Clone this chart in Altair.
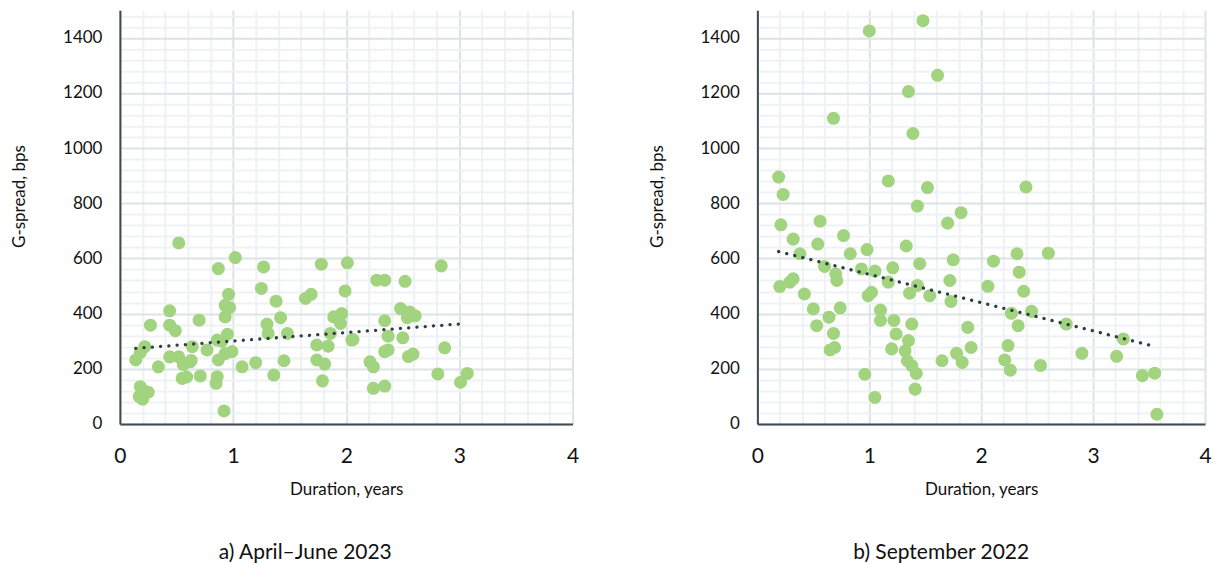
import altair as alt
import pandas as pd

# ---- data ----
a_duration = [0.52, 1.02, 0.87, 1.27, 1.78, 2.01, 1.25, 1.99, 0.96, 1.64, 1.69, 1.38, 0.93, 0.97,
              0.44, 1.42, 0.93, 1.89, 1.96, 0.70, 0.27, 0.44, 0.49, 1.30, 1.31, 1.48, 1.95, 1.86,
              0.95, 0.86, 2.05, 0.22, 0.14, 0.18, 0.64, 0.77, 0.99, 1.74, 1.84, 0.44, 0.52, 0.62,
              0.56, 0.87, 0.34, 1.08, 1.20, 1.45, 1.74, 1.81, 0.55, 0.59, 0.71, 0.86, 0.85, 1.36,
              1.79, 0.18, 0.22, 0.17, 0.20, 0.25, 0.92, 2.84, 2.27, 2.34, 2.52, 2.48, 2.56, 2.61,
              2.54, 2.34, 2.37, 2.50, 2.06, 2.87, 2.34, 2.37, 2.55, 2.59, 2.21, 2.24, 2.81, 3.07,
              3.01, 2.24, 2.34, 0.90, 0.93, 0.63]
a_spread = [656, 603, 563, 569, 579, 584, 491, 482, 470, 455, 470, 445, 430, 422,
            410, 385, 388, 388, 400, 376, 358, 358, 338, 362, 328, 328, 364, 328,
            325, 304, 304, 280, 232, 258, 280, 268, 262, 286, 282, 243, 243, 225,
            215, 232, 207, 207, 222, 229, 232, 217, 165, 170, 174, 171, 147, 177,
            156, 135, 117, 99, 90, 115, 47, 573, 521, 521, 517, 418, 406, 392,
            385, 374, 318, 312, 306, 276, 262, 268, 244, 253, 225, 207, 181, 183,
            151, 129, 137, 300, 255, 230]

b_duration = [1.48, 1.00, 1.61, 1.35, 0.68, 1.39, 0.19, 0.23, 1.17, 1.52, 1.43, 1.82, 1.70, 0.21,
              0.56, 0.32, 0.54, 0.77, 0.98, 0.83, 1.33, 0.38, 1.75, 1.45, 1.21, 0.60, 0.93, 1.05,
              0.70, 0.71, 0.32, 0.29, 0.20, 1.17, 1.43, 1.36, 1.72, 1.54, 1.73, 1.02, 0.99, 0.42,
              0.50, 0.74, 0.64, 0.53, 0.68, 0.65, 0.69, 1.10, 1.10, 1.22, 1.38, 1.24, 1.35, 1.20,
              1.32, 1.34, 1.38, 1.42, 1.65, 1.78, 1.83, 1.88, 1.91, 0.96, 1.05, 1.41, 2.40, 2.11,
              2.32, 2.60, 2.34, 2.06, 2.38, 2.27, 2.45, 2.33, 2.76, 3.27, 2.24, 2.21, 2.26, 2.53,
              2.90, 3.21, 3.44, 3.55, 3.57]
b_spread = [1462, 1425, 1264, 1205, 1108, 1053, 895, 832, 881, 857, 790, 766, 728, 722,
            735, 670, 652, 683, 632, 617, 645, 617, 595, 581, 566, 571, 562, 554,
            544, 520, 526, 514, 498, 514, 502, 474, 520, 465, 444, 477, 465, 471,
            417, 421, 387, 356, 328, 268, 277, 413, 375, 375, 362, 326, 302, 272,
            265, 229, 211, 183, 229, 256, 223, 350, 277, 180, 96, 126, 859, 590,
            617, 619, 550, 499, 481, 401, 408, 356, 362, 308, 284, 232, 195, 212,
            256, 245, 175, 184, 35]

a_trend_duration = [0.14, 3.06]
a_trend_spread = [274, 364]
b_trend_duration = [0.19, 3.55]
b_trend_spread = [625, 281]

x_grid = [round(i * 0.2, 1) for i in range(21)]
y_grid = list(range(0, 1500, 40))
x_labels = [0, 1, 2, 3, 4]
y_labels = [0, 200, 400, 600, 800, 1000, 1200, 1400]

FONT = "Lato"
GREEN = "#A2D480"
DARK = "#323D44"
MAJOR = "#DCE3E6"
MINOR = "#EEF2F4"


def panel(dur, spread, tdur, tspread, caption, width, dx):
    pts = pd.DataFrame({"d": dur, "s": spread})
    tr = pd.DataFrame({"d": tdur, "s": tspread})
    xl = ",".join(str(v) for v in x_labels)
    yl = ",".join(str(v) for v in y_labels)
    x_axis = alt.Axis(
        values=x_grid,
        title="Duration, years",
        labelExpr=f"indexof([{xl}], datum.value) >= 0 ? format(datum.value, 'd') : ''",
        gridColor={"condition": {"test": f"indexof([{xl}], datum.value) >= 0", "value": MAJOR}, "value": MINOR},
        gridWidth=2,
        ticks=False,
        labelPadding=22,
        labelFontSize=21,
        labelOverlap=False,
        labelFlush=False,
        titleFontSize=17,
        titleY=58,
        titleBaseline="top",
    )
    y_axis = alt.Axis(
        values=y_grid,
        title="G-spread, bps",
        labelExpr=f"indexof([{yl}], datum.value) >= 0 ? format(datum.value, 'd') : ''",
        gridColor={"condition": {"test": f"indexof([{yl}], datum.value) >= 0", "value": MAJOR}, "value": MINOR},
        gridWidth=2,
        ticks=False,
        labelPadding=18,
        labelFontSize=17,
        labelOverlap=False,
        labelFlush=False,
        titleFontSize=17,
        titleX=-91,
        titleY=186,
        titleAngle=270,
        titleAlign="center",
        titleBaseline="bottom",
    )
    x = alt.X("d:Q", scale=alt.Scale(domain=[0, 4], nice=False), axis=x_axis)
    y = alt.Y("s:Q", scale=alt.Scale(domain=[0, 1500], nice=False), axis=y_axis)
    points = alt.Chart(pts).mark_circle(size=170, color=GREEN, opacity=1).encode(x=x, y=y)
    trend = alt.Chart(tr).mark_line(
        color=DARK, strokeWidth=3.3, strokeDash=[0.1, 8.2], strokeCap="round"
    ).encode(x=x, y=y)
    return alt.layer(points, trend).properties(
        width=width,
        height=414,
        title=alt.TitleParams(
            text=caption, orient="bottom", anchor="middle", fontSize=21,
            font=FONT, fontWeight="normal", color="#111111", offset=44, dx=dx,
        ),
    )


left = panel(a_duration, a_spread, a_trend_duration, a_trend_spread, "a) April–June 2023", 453, -41)
right = panel(b_duration, b_spread, b_trend_duration, b_trend_spread, "b) September 2022", 448, -40)

chart = (
    alt.hconcat(left, right, spacing=68)
    .properties(padding={"left": 2, "top": -2, "right": 0, "bottom": 0})
    .configure_view(stroke="transparent")
    .configure_axis(
        labelFont=FONT, titleFont=FONT, labelColor="#111111", titleColor="#111111",
        titleFontWeight="normal", domainColor="#3E4A50", domainWidth=2,
    )
)

chart.save("out.html", embed_options={"renderer": "svg", "actions": False})
